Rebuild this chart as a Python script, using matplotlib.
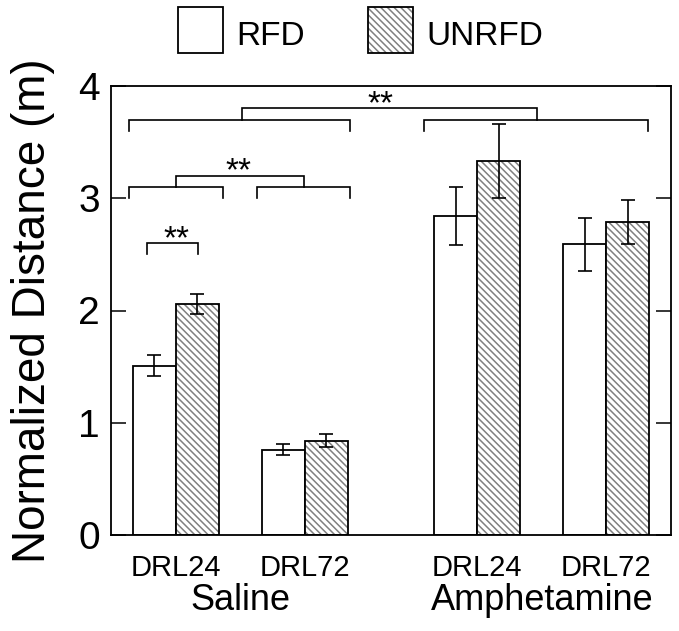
import matplotlib
matplotlib.use("Agg")
import matplotlib.pyplot as plt
from matplotlib.patches import Rectangle
from matplotlib.transforms import blended_transform_factory

plt.rcParams["font.family"] = ["Liberation Sans", "DejaVu Sans"]
plt.rcParams["hatch.linewidth"] = 1.1

# data
conditions = ["DRL24", "DRL72", "DRL24", "DRL72"]
positions = [0, 3, 7, 10]
groups = ["Saline", "Amphetamine"]
group_centers = [1.5, 8.5]
series = ["RFD", "UNRFD"]
rfd_mean = [1.51, 0.76, 2.84, 2.59]
rfd_err = [0.09, 0.05, 0.26, 0.235]
unrfd_mean = [2.06, 0.84, 3.33, 2.785]
unrfd_err = [0.09, 0.06, 0.33, 0.195]

# significance brackets: (x_left, x_right, y_top, y_tip)
brackets = [
    (-0.67, 0.53, 2.60, 2.50),
    (-1.08, 1.10, 3.10, 3.00),
    (1.88, 4.04, 3.10, 3.00),
    (0.0, 2.97, 3.20, 3.10),
    (-1.08, 4.04, 3.70, 3.60),
    (5.77, 10.97, 3.70, 3.60),
    (1.55, 8.38, 3.80, 3.70),
]
stars_x = [0.03, 1.45, 4.76]
stars_y = [2.55, 3.16, 3.76]

HATCH = "\\\\\\\\\\"
HATCH_COLOR = "#808080"

W, H = 679, 631
fig = plt.figure(figsize=(W / 100, H / 100), dpi=100)
ax = fig.add_axes([111 / W, 1 - 535 / H, 560 / W, 449 / H])

bw = 1.0
x_rfd = [p - bw / 2 for p in positions]
x_unrfd = [p + bw / 2 for p in positions]

err_kw = dict(ecolor="black", elinewidth=1.2, capsize=4.8, capthick=1.2)
ax.bar(x_rfd, rfd_mean, width=bw, color="white", edgecolor="black",
       linewidth=1.3, yerr=rfd_err, error_kw=err_kw, zorder=2)
ax.bar(x_unrfd, unrfd_mean, width=bw, color="white", edgecolor=HATCH_COLOR,
       linewidth=0, hatch=HATCH, zorder=2)
ax.bar(x_unrfd, unrfd_mean, width=bw, fill=False, edgecolor="black",
       linewidth=1.3, yerr=unrfd_err, error_kw=err_kw, zorder=3)

for xl, xr, yt, yb in brackets:
    ax.plot([xl, xl, xr, xr], [yb, yt, yt, yb], color="black", lw=1.2,
            solid_joinstyle="miter", zorder=4)
for sx, sy in zip(stars_x, stars_y):
    ax.text(sx, sy, "**", ha="center", va="baseline", fontsize=24)

ax.set_xlim(-1.5, 11.5)
ax.set_ylim(0, 4)
ax.set_yticks([0, 1, 2, 3, 4])
ax.tick_params(axis="y", direction="in", length=11, width=1.1,
               right=True, labelsize=28, pad=8)
ax.set_xticks(positions)
ax.set_xticklabels(conditions)
ax.tick_params(axis="x", length=0, labelsize=21, pad=14)
for s in ax.spines.values():
    s.set_linewidth(1.3)

trans = blended_transform_factory(ax.transData, ax.transAxes)
for gx, g in zip(group_centers, groups):
    ax.text(gx, -0.167, g, transform=trans, ha="center", va="baseline",
            fontsize=26)

ax.set_ylabel("Normalized Distance (m)", fontsize=33, labelpad=17)

# legend drawn by hand at the top of the figure
legend_x = [178, 368]
for lx, name in zip(legend_x, series):
    if name == "UNRFD":
        fig.add_artist(Rectangle((lx / W, 1 - 53 / H), 45 / W, 46 / H,
                                 transform=fig.transFigure, facecolor="white",
                                 edgecolor=HATCH_COLOR, linewidth=0,
                                 hatch=HATCH))
    fig.add_artist(Rectangle((lx / W, 1 - 53 / H), 45 / W, 46 / H,
                             transform=fig.transFigure, fill=False,
                             edgecolor="black", linewidth=1.3))
    fig.text((lx + 58) / W, 1 - 45 / H, name, fontsize=24, ha="left",
             va="baseline")

fig.savefig("out.png", dpi=100)
